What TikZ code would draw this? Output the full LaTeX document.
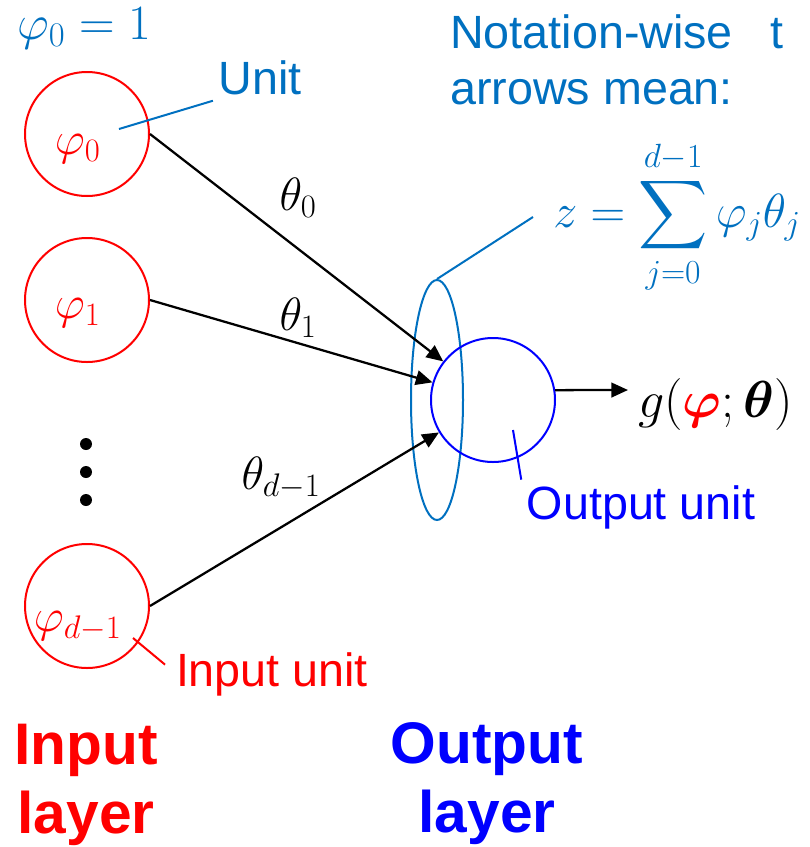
\RequirePackage{fix-cm}
\documentclass[tikz,border=0pt]{standalone}
\usepackage{amsmath,amssymb}
\usepackage[no-math]{fontspec}
\setmainfont{Liberation Sans}
\usepackage{tikz}
\usetikzlibrary{arrows.meta,shapes.geometric}
\definecolor{nnred}{RGB}{255,0,0}
\definecolor{nnblue}{RGB}{0,0,255}
\definecolor{nnnote}{RGB}{0,112,192}
\tikzset{
  nnin/.style={circle, draw=nnred, line width=1.5pt, minimum size=93pt,
               inner sep=0pt},
  nnout/.style={circle, draw=nnblue, line width=1.5pt, minimum size=93pt,
                inner sep=0pt},
  nnell/.style={ellipse, draw=nnnote, line width=1.5pt, minimum width=39pt,
                minimum height=180pt, inner sep=0pt},
  nnw/.style={line width=1.7pt, -{Triangle[length=12.5pt,width=11pt]}},
  nncall/.style={line width=1.5pt},
  nnmath/.style={font=\fontsize{35}{40}\selectfont},
  nntxt/.style={font=\fontsize{35}{42}\selectfont, inner sep=4pt},
  nnlayer/.style={font=\fontsize{44}{52}\selectfont\bfseries, align=center,
                  inner sep=0pt, anchor=north}
}
\begin{document}
\begin{tikzpicture}[x=0.75pt, y=-0.75pt]
  \useasboundingbox (0,0) rectangle (810,847);
  % input units
  \node[nnin, label={[nnmath, text=nnred, xshift=-7pt, yshift=-11pt]center:$\varphi_0$}] (i0) at (87,134) {};
  \node[nnin, label={[nnmath, text=nnred, xshift=-7pt, yshift=-10pt]center:$\varphi_1$}] (i1) at (87,300) {};
  \node[nnin, label={[nnmath, text=nnred, xshift=-7pt, yshift=-15pt]center:$\varphi_{d-1}$}] (i2) at (87,606) {};
  \foreach \y in {444,472,500}
    \fill (86,\y) circle (4.5pt);
  % output unit
  \node[nnell] (ell) at (437,400) {};
  \node[nnout] (out) at (493,400) {};
  \draw[nnw] (i0.east) -- (out);
  \draw[nnw] (i1.east) -- (out);
  \draw[nnw] (i2.east) -- (out);
  \node[nnmath] (w0) at (298,198) {$\theta_0$};
  \node[nnmath] (w1) at (298,318) {$\theta_1$};
  \node[nnmath] (w2) at (281,478) {$\theta_{d-1}$};
  \coordinate (gtip) at (628,390);
  \draw[nnw] (out.9) -- (gtip);
  \node[font=\fontsize{39}{44}\selectfont, anchor=west, inner sep=0pt] (gout) at (638,404)
    {$g(\textcolor{nnred}{\boldsymbol{\varphi}};\boldsymbol{\theta})$};
  % notes
  \node[font=\fontsize{37}{42}\selectfont, text=nnnote] (phione) at (84,28) {$\varphi_0 = 1$};
  \node[nntxt, text=nnnote] (unitlab) at (260,78) {Unit};
  \coordinate (unitpt) at (119,129);
  \draw[nncall, nnnote] (unitpt) -- (unitlab.south west);
  \node[nntxt, text=nnnote, align=left, anchor=north west, inner sep=0pt]
    (notelab) at (450,14) {Notation-wise\hspace{28pt}t\\arrows mean:};
  \node[font=\fontsize{36}{42}\selectfont, text=nnnote, anchor=west,
        inner xsep=15pt, inner ysep=0pt] (sumeq) at (533,217)
    {$\displaystyle z = \sum_{j=0}^{d-1} \varphi_j\theta_j$};
  \draw[nncall, nnnote] (ell.north) -- (sumeq.west);
  \node[nntxt, text=nnblue] (outlab) at (641,507) {Output unit};
  \coordinate (outpt) at (513,430);
  \draw[nncall, nnblue] (outpt) -- (outlab.north west);
  \node[nntxt, text=nnred, inner sep=8pt] (inlab) at (272,674) {Input unit};
  \coordinate (inpt) at (133,638);
  \draw[nncall, nnred] (inpt) -- (inlab.175);
  % layers
  \node[nnlayer, text=nnred] (inlayer) at (86,724) {Input\\layer};
  \node[nnlayer, text=nnblue] (outlayer) at (487,722) {Output\\layer};
\end{tikzpicture}
\end{document}
